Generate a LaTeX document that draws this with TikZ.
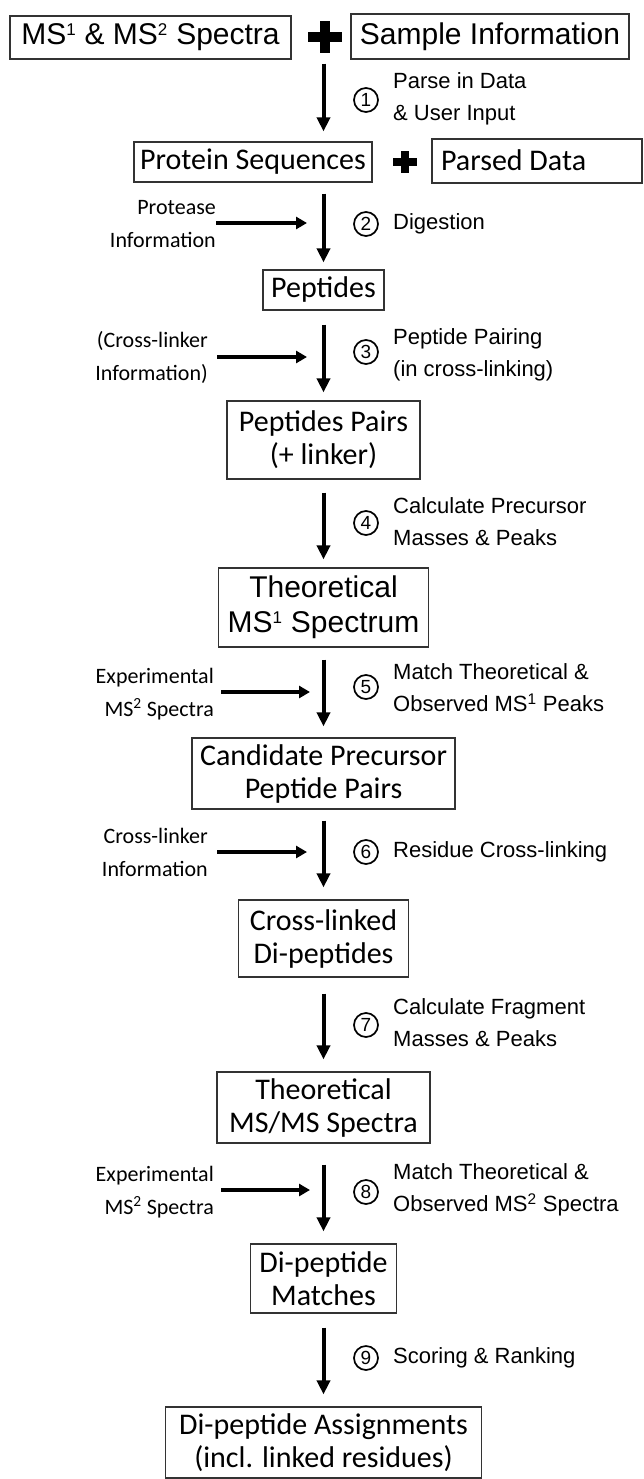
\documentclass[tikz,border=0pt]{standalone}
\usepackage{fontspec}
\setmainfont{Liberation Sans}
\newfontfamily\calib{Carlito}
\usetikzlibrary{arrows.meta,calc}
% small superscript used inside the large boxes
\newcommand\boxsup[1]{\textsuperscript{\fontsize{17}{17}\selectfont #1}}

\begin{document}
\begin{tikzpicture}[x=1pt,y=-1pt,
  box/.style={draw=black!80, line width=1.2pt, inner sep=0pt, align=center},
  arialbox/.style={box, font=\fontsize{30}{35}\selectfont},
  calbox/.style={box, font=\calib\fontsize{30}{33}\selectfont},
  flow/.style={line width=4pt, -{Triangle[width=13pt,length=14pt]}},
  feed/.style={line width=3.6pt, -{Triangle[width=12pt,length=11pt]}},
  steplabel/.style={anchor=west, align=left, inner sep=0pt, font=\fontsize{22}{32}\selectfont},
  sidelabel/.style={anchor=east, align=right, inner sep=0pt, font=\calib\fontsize{22}{33}\selectfont},
  num/.style={circle, draw, line width=1.7pt, minimum size=24pt, inner sep=0pt, font=\fontsize{19}{19}\selectfont},
]
\useasboundingbox (0,0) rectangle (644,1479);

% ---- boxes ----
\node[arialbox, minimum width=281pt, minimum height=43pt] (ms) at (150.5,37.5) {MS\boxsup{1} \& MS\boxsup{2} Spectra};
\node[arialbox, minimum width=278pt, minimum height=45pt] (sample) at (490,36.5) {Sample Information};
\node[calbox, minimum width=238pt, minimum height=40pt] (prot) at (253,162) {Protein Sequences};
\node[box, minimum width=210pt, minimum height=44pt] (parsed) at (537,161) {};
\node[anchor=west, inner sep=0pt, font=\calib\fontsize{30}{33}\selectfont] (parsedtxt) at ($(parsed.west)+(9.5,-1)$) {Parsed Data};
\node[calbox, minimum width=121pt, minimum height=40pt] (pep) at (323.5,290) {Peptides};
\node[calbox, minimum width=193pt, minimum height=78pt] (pairs) at (323.5,440) {Peptides Pairs\\(+ linker)};
\node[arialbox, minimum width=210pt, minimum height=79pt] (theo1) at (323.5,607.5) {Theoretical\\MS\boxsup{1} Spectrum};
\node[calbox, minimum width=263pt, minimum height=71pt] (cand) at (323.5,773.5) {Candidate Precursor\\Peptide Pairs};
\node[calbox, minimum width=170pt, minimum height=77pt] (xl) at (323.5,938.5) {Cross-linked\\Di-peptides};
\node[calbox, minimum width=213pt, minimum height=71pt] (theo2) at (323.5,1107.5) {Theoretical\\MS/MS Spectra};
\node[calbox, minimum width=146pt, minimum height=69pt] (match) at (323.5,1278.5) {Di-peptide\\Matches};
\node[calbox, minimum width=316pt, minimum height=71pt] (assign) at (323.5,1442.5) {Di-peptide Assignments\\(incl. linked residues)};

% ---- plus signs ----
\fill (324.5,37.5) +(-17,-5) rectangle +(17,5);
\fill (324.5,37.5) +(-5,-16) rectangle +(5,16);
\fill (405,162) +(-12,-4) rectangle +(12,4);
\fill (405,162) +(-4,-11) rectangle +(4,11);

% ---- main flow ----
\draw[flow] ($(ms.south -| pep.north)+(0,4)$) -- ($(prot.north -| pep.north)+(0,-10)$);
\draw[flow] ($(prot.south -| pep.north)+(0,11)$) -- ($(pep.north)+(0,-7)$);
\draw[flow] ($(pep.south)+(0,14)$) -- ($(pairs.north)+(0,-8)$);
\draw[flow] ($(pairs.south)+(0,13)$) -- ($(theo1.north)+(0,-8)$);
\draw[flow] ($(theo1.south)+(0,12)$) -- ($(cand.north)+(0,-11)$);
\draw[flow] ($(cand.south)+(0,11)$) -- ($(xl.north)+(0,-12)$);
\draw[flow] ($(xl.south)+(0,16)$) -- ($(theo2.north)+(0,-12)$);
\draw[flow] ($(theo2.south)+(0,21)$) -- ($(match.north)+(0,-12)$);
\draw[flow] ($(match.south)+(0,14)$) -- ($(assign.north)+(0,-12)$);

% ---- step numbers and descriptions ----
\node[num] (n1) at (366,100) {1};
\node[steplabel] (s1) at (393,99) {Parse in Data\\\& User Input};
\node[num] (n2) at (366,224) {2};
\node[steplabel] (s2) at (393,224) {Digestion};
\node[num] (n3) at (366,352) {3};
\node[steplabel] (s3) at (393,355) {Peptide Pairing\\(in cross-linking)};
\node[num] (n4) at (366,523) {4};
\node[steplabel] (s4) at (393,522) {Calculate Precursor\\Masses \& Peaks};
\node[num] (n5) at (366,687) {5};
\node[steplabel] (s5) at (393,688) {Match Theoretical \&\\Observed MS\textsuperscript{1} Peaks};
\node[num] (n6) at (366,852) {6};
\node[steplabel] (s6) at (393,852) {Residue Cross-linking};
\node[num] (n7) at (366,1025) {7};
\node[steplabel] (s7) at (393,1023) {Calculate Fragment\\Masses \& Peaks};
\node[num] (n8) at (366,1192) {8};
\node[steplabel] (s8) at (393,1190) {Match Theoretical \&\\Observed MS\textsuperscript{2} Spectra};
\node[num] (n9) at (366,1358) {9};
\node[steplabel] (s9) at (393,1358) {Scoring \& Ranking};

% ---- side inputs ----
\node[sidelabel] (in2) at (216,224) {Protease\\Information};
\coordinate (t2) at (307,223);
\draw[feed] (in2.east |- t2) -- (t2);
\node[sidelabel] (in3) at (208,357) {(Cross-linker\\Information)};
\coordinate (t3) at (307,357);
\draw[feed] ($(in3.east |- t3)+(9,0)$) -- (t3);
\node[sidelabel] (in5) at (214,694) {Experimental\\MS\textsuperscript{2} Spectra};
\coordinate (t5) at (310,692);
\draw[feed] ($(in5.east |- t5)+(7,0)$) -- (t5);
\node[sidelabel] (in6) at (208,852) {Cross-linker\\Information};
\coordinate (t6) at (307,852);
\draw[feed] ($(in6.east |- t6)+(9,0)$) -- (t6);
\node[sidelabel] (in8) at (214,1192) {Experimental\\MS\textsuperscript{2} Spectra};
\coordinate (t8) at (310,1190);
\draw[feed] ($(in8.east |- t8)+(7,0)$) -- (t8);
\end{tikzpicture}
\end{document}
